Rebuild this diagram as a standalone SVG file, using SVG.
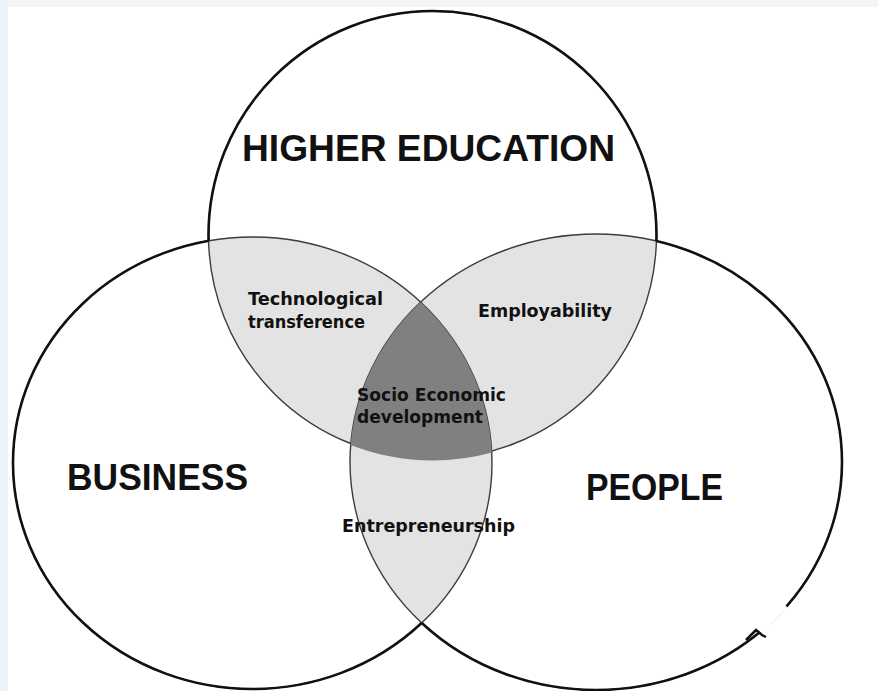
<svg xmlns="http://www.w3.org/2000/svg" xmlns:xlink="http://www.w3.org/1999/xlink" width="878" height="691" viewBox="0 0 878 691">
  <style>
    .lens { fill: #e3e3e3; }
    .core { fill: #808080; stroke: #808080; stroke-width: 3; }
    .inner { fill: none; stroke: #3c3c3c; stroke-width: 1.4; }
    .outer { fill: none; stroke: #111; stroke-width: 2.6; }
    .big { font-family: "Liberation Sans", Arial, sans-serif; font-weight: bold; font-size: 36px; fill: #111; }
    .small { font-family: "DejaVu Sans", Verdana, sans-serif; font-weight: bold; font-size: 18px; fill: #111; }
  </style>
  <defs>
    <circle id="shTop" cx="432.5" cy="235" r="224"/>
    <ellipse id="shLeft" cx="252.5" cy="463" rx="239.5" ry="226"/>
    <ellipse id="shRight" cx="596" cy="462" rx="246" ry="228"/>
    <clipPath id="clipTop"><use xlink:href="#shTop"/></clipPath>
    <clipPath id="clipLeft"><use xlink:href="#shLeft"/></clipPath>
    <clipPath id="clipRight"><use xlink:href="#shRight"/></clipPath>
    <mask id="mOutTop" maskUnits="userSpaceOnUse" x="0" y="0" width="878" height="691">
      <rect width="878" height="691" fill="#fff"/>
      <use xlink:href="#shLeft" fill="#000"/>
      <use xlink:href="#shRight" fill="#000"/>
    </mask>
    <mask id="mOutLeft" maskUnits="userSpaceOnUse" x="0" y="0" width="878" height="691">
      <rect width="878" height="691" fill="#fff"/>
      <use xlink:href="#shTop" fill="#000"/>
      <use xlink:href="#shRight" fill="#000"/>
    </mask>
    <mask id="mOutRight" maskUnits="userSpaceOnUse" x="0" y="0" width="878" height="691">
      <rect width="878" height="691" fill="#fff"/>
      <use xlink:href="#shTop" fill="#000"/>
      <use xlink:href="#shLeft" fill="#000"/>
    </mask>
  </defs>

  <rect width="878" height="691" fill="#fff"/>
  <rect x="0" y="0" width="878" height="7" fill="#f5f5f5"/>
  <rect x="0" y="0" width="8" height="691" fill="#eef3f7"/>

  <g id="lens-tech"><use xlink:href="#shTop" class="lens" clip-path="url(#clipLeft)"/></g>
  <g id="lens-employ"><use xlink:href="#shTop" class="lens" clip-path="url(#clipRight)"/></g>
  <g id="lens-entre"><use xlink:href="#shLeft" class="lens" clip-path="url(#clipRight)"/></g>

  <g id="inner-lines">
    <use xlink:href="#shTop" class="inner"/>
    <use xlink:href="#shLeft" class="inner"/>
    <use xlink:href="#shRight" class="inner"/>
  </g>

  <g id="core" clip-path="url(#clipLeft)">
    <g clip-path="url(#clipRight)">
      <use xlink:href="#shTop" class="core"/>
    </g>
  </g>

  <g id="higher-education">
    <use xlink:href="#shTop" class="outer" mask="url(#mOutTop)"/>
    <text class="big" x="242" y="161" textLength="373" lengthAdjust="spacingAndGlyphs">HIGHER EDUCATION</text>
  </g>
  <g id="business">
    <use xlink:href="#shLeft" class="outer" mask="url(#mOutLeft)"/>
    <text class="big" x="67" y="490" font-size="37" textLength="181" lengthAdjust="spacingAndGlyphs">BUSINESS</text>
  </g>
  <g id="people">
    <use xlink:href="#shRight" class="outer" mask="url(#mOutRight)"/>
    <path d="M 786 606 L 760 632" stroke="#fff" stroke-width="5" fill="none"/>
    <path d="M 746 640 L 756 630 L 762 635 L 766 637" stroke="#111" stroke-width="2.5" fill="none"/>
    <text class="big" x="586" y="500" textLength="137" lengthAdjust="spacingAndGlyphs">PEOPLE</text>
  </g>

  <g id="label-tech">
    <text class="small" x="248" y="305" textLength="135" lengthAdjust="spacingAndGlyphs">Technological</text>
    <text class="small" x="248" y="328" textLength="117" lengthAdjust="spacingAndGlyphs">transference</text>
  </g>
  <g id="label-employ">
    <text class="small" x="478" y="317" textLength="134" lengthAdjust="spacingAndGlyphs">Employability</text>
  </g>
  <g id="label-core">
    <text class="small" x="357" y="401" textLength="149" lengthAdjust="spacingAndGlyphs">Socio Economic</text>
    <text class="small" x="357" y="423" textLength="126" lengthAdjust="spacingAndGlyphs">development</text>
  </g>
  <g id="label-entre">
    <text class="small" x="342" y="532" textLength="173" lengthAdjust="spacingAndGlyphs">Entrepreneurship</text>
  </g>
  <g id="connectors"/>
</svg>
